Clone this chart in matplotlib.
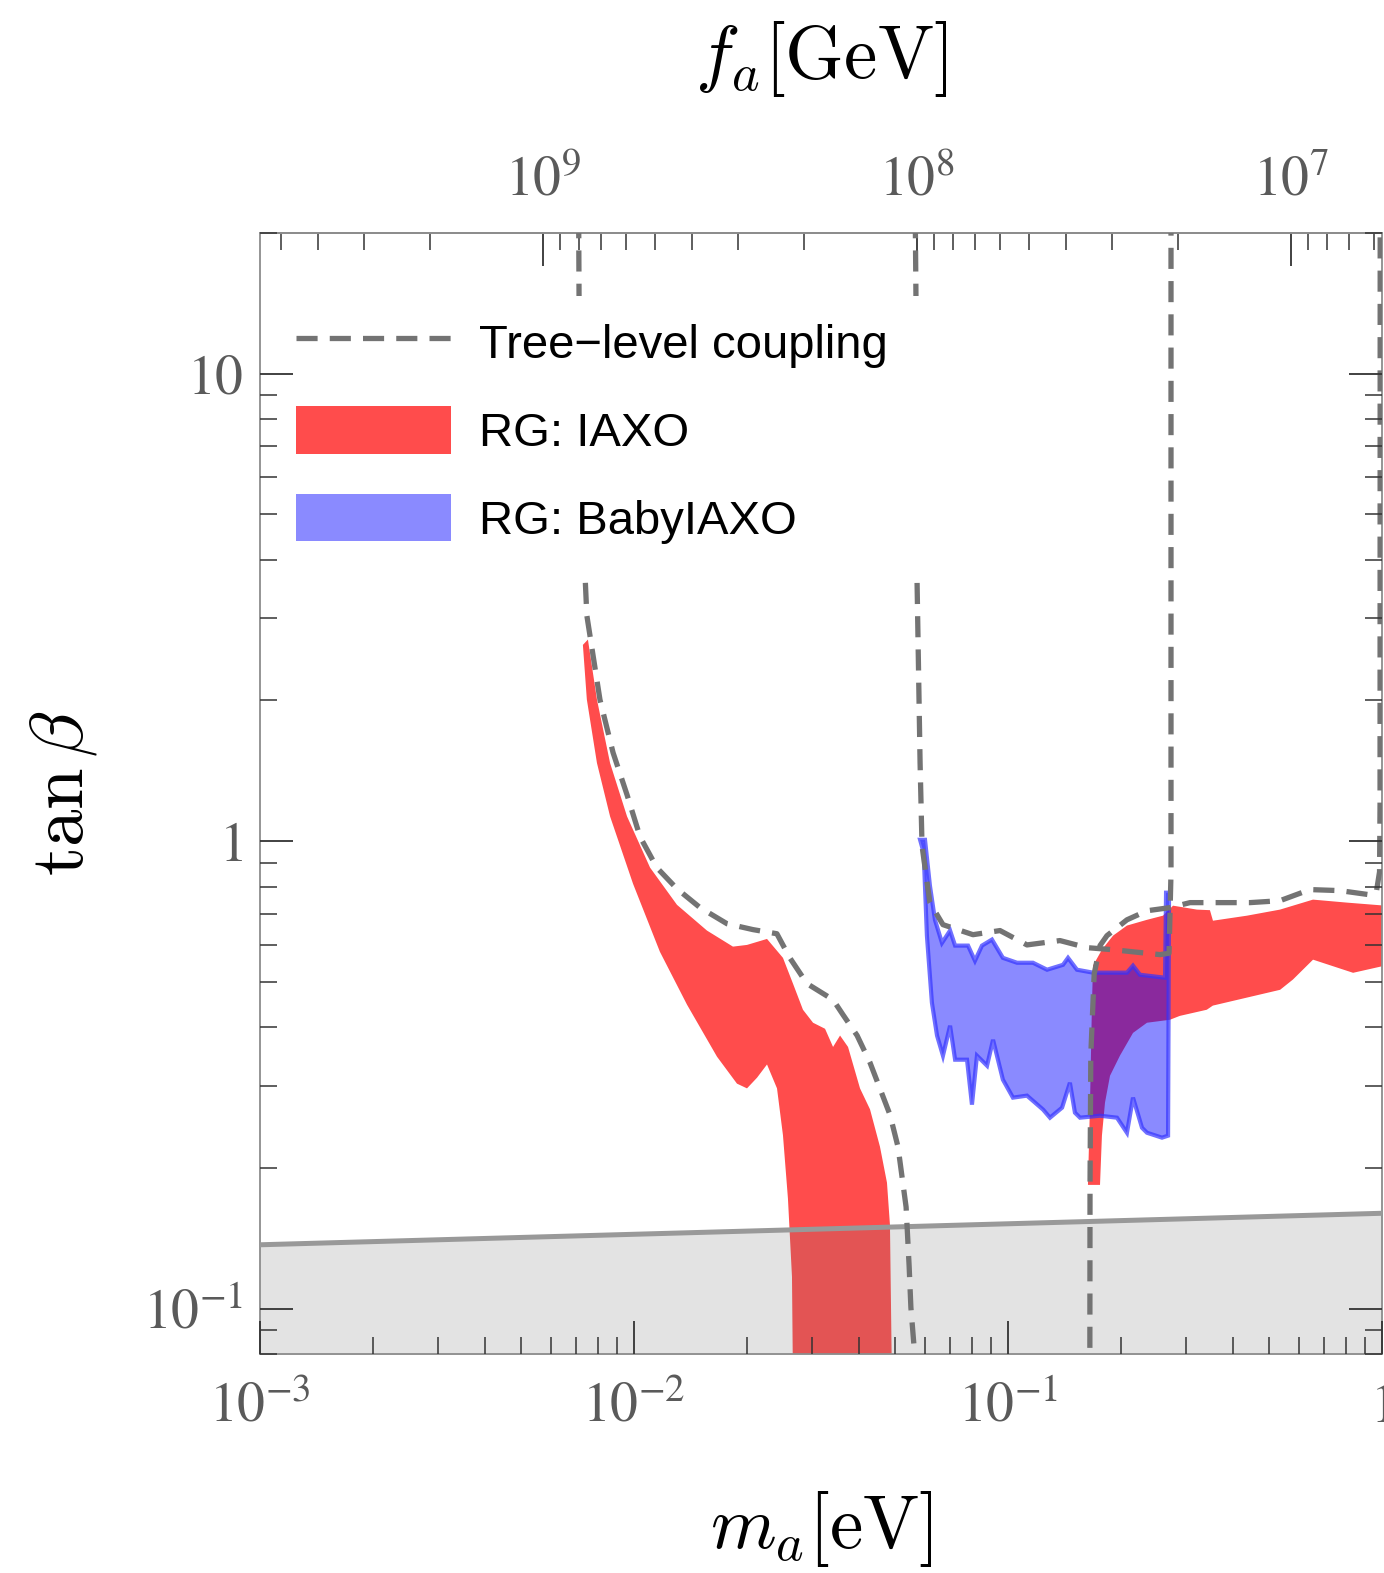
import math
import matplotlib
matplotlib.use('Agg')
import matplotlib.pyplot as plt
from matplotlib.lines import Line2D
from matplotlib.patches import Patch, Rectangle
from matplotlib.ticker import LogLocator, FuncFormatter, NullFormatter

plt.rcParams['font.family'] = ['Liberation Sans', 'DejaVu Sans']
plt.rcParams['mathtext.fontset'] = 'stix'

# m_a [eV] <-> f_a [GeV]
FA_CONST = 5.7e6

# RG: IAXO, low-mass branch (outline: upper edge, then lower edge back up)
iaxo1_m = [7.53e-3, 7.96e-3, 8.63e-3, 9.58e-3, 1.104e-2, 1.303e-2, 1.567e-2, 1.839e-2,
           2.005e-2, 2.268e-2, 2.502e-2, 2.661e-2, 2.830e-2, 3.011e-2, 3.242e-2, 3.406e-2,
           3.556e-2, 3.735e-2, 4.021e-2, 4.276e-2, 4.547e-2, 4.747e-2, 4.835e-2, 4.895e-2,
           2.661e-2, 2.645e-2, 2.580e-2, 2.502e-2, 2.412e-2, 2.268e-2, 2.133e-2, 2.005e-2,
           1.885e-2, 1.667e-2, 1.386e-2, 1.173e-2, 9.94e-3, 8.63e-3, 7.96e-3, 7.48e-3, 7.30e-3]
iaxo1_tb = [2.70, 2.01, 1.47, 1.13, 0.878, 0.731, 0.644, 0.595,
            0.600, 0.618, 0.563, 0.496, 0.436, 0.409, 0.397, 0.363,
            0.384, 0.363, 0.296, 0.267, 0.222, 0.186, 0.151, 0.07,
            0.07, 0.117, 0.172, 0.235, 0.296, 0.333, 0.312, 0.296,
            0.303, 0.346, 0.447, 0.580, 0.811, 1.13, 1.47, 2.01, 2.63]

# RG: IAXO, high-mass branch
iaxo2_m = [0.1688, 0.1783, 0.1909, 0.2080, 0.2353, 0.2597, 0.2762, 0.3200, 0.3467, 0.3532,
           0.4355, 0.5336, 0.6539, 0.806, 1.02,
           1.02, 0.837, 0.654, 0.578, 0.534, 0.353, 0.340, 0.288, 0.271, 0.2353, 0.2159,
           0.1993, 0.1874, 0.1817, 0.1783, 0.1762, 0.1636, 0.1657, 0.1677]
iaxo2_tb = [0.542, 0.586, 0.628, 0.660, 0.679, 0.693, 0.728, 0.714, 0.712, 0.676,
            0.693, 0.714, 0.750, 0.739, 0.728,
            0.542, 0.523, 0.558, 0.506, 0.481, 0.445, 0.436, 0.423, 0.415, 0.409, 0.389,
            0.348, 0.315, 0.276, 0.2345, 0.184, 0.184, 0.276, 0.451]

# RG: BabyIAXO
baby_m = [5.82e-2, 5.999e-2, 6.184e-2, 6.378e-2, 6.66e-2, 7.00e-2, 7.22e-2, 7.82e-2, 8.16e-2,
          8.52e-2, 9.06e-2, 9.69e-2, 0.1057, 0.1166, 0.1272, 0.1403, 0.1447, 0.1529, 0.1688,
          0.2080, 0.2159, 0.2254, 0.2630, 0.2646, 0.2695, 0.2679,
          0.2581, 0.2353, 0.2282, 0.2159, 0.2080, 0.1956, 0.1762, 0.1558, 0.1510, 0.1464,
          0.1395, 0.1295, 0.1241, 0.1124, 0.1031, 9.69e-2, 9.12e-2, 8.79e-2, 8.26e-2, 8.01e-2,
          7.77e-2, 7.22e-2, 7.00e-2, 6.70e-2, 6.46e-2, 6.26e-2, 6.07e-2, 5.95e-2]
baby_tb = [1.007, 1.007, 0.803, 0.679, 0.606, 0.644, 0.598, 0.598, 0.555,
           0.598, 0.616, 0.563, 0.5496, 0.5496, 0.531, 0.544, 0.563, 0.531, 0.5234,
           0.5234, 0.5417, 0.518, 0.5105, 0.776, 0.776, 0.2345,
           0.2322, 0.2379, 0.2438, 0.2828, 0.2379, 0.2562, 0.2587, 0.2562, 0.2626, 0.3043,
           0.2692, 0.2562, 0.2666, 0.2856, 0.2828, 0.3090, 0.376, 0.331, 0.3477, 0.2732,
           0.3409, 0.3409, 0.403, 0.3477, 0.384, 0.4513, 0.628, 0.945]

# tree-level coupling curves
tree1_m = [7.10e-3, 7.13e-3, 7.25e-3, 7.40e-3, 7.48e-3, 8.11e-3, 8.79e-3, 9.58e-3, 1.038e-2,
           1.151e-2, 1.303e-2, 1.502e-2, 1.773e-2, 2.08e-2, 2.41e-2, 2.61e-2, 2.90e-2,
           3.406e-2, 3.62e-2, 3.95e-2, 4.276e-2, 4.547e-2, 4.835e-2, 5.08e-2, 5.34e-2,
           5.44e-2, 5.50e-2, 5.64e-2, 5.70e-2]
tree1_tb = [30, 14.4, 6.0, 3.68, 3.04, 2.007, 1.547, 1.257, 1.022,
            0.878, 0.791, 0.721, 0.666, 0.647, 0.634, 0.563, 0.496,
            0.458, 0.4255, 0.384, 0.336, 0.2956, 0.260, 0.222, 0.165,
            0.1236, 0.1005, 0.0785, 0.07]

tree2_m = [5.63e-2, 5.675e-2, 5.71e-2, 5.82e-2, 5.89e-2, 6.18e-2, 6.70e-2, 8.06e-2, 9.52e-2,
           0.1124, 0.1377, 0.1626, 0.1909, 0.2549, 0.2695, 0.2728, 0.2728]
tree2_tb = [30, 14.4, 3.68, 1.472, 0.978, 0.739, 0.663, 0.631, 0.644,
            0.600, 0.613, 0.592, 0.586, 0.572, 0.576, 0.856, 30]

tree3_m = [0.1655, 0.1657, 0.1665, 0.1700, 0.1762, 0.1839, 0.2080, 0.2353, 0.2711, 0.3067,
           0.3622, 0.4437, 0.5336, 0.6419, 0.772, 0.929, 0.965, 0.985, 0.988, 0.989]
tree3_tb = [0.07, 0.184, 0.35, 0.52, 0.598, 0.628, 0.679, 0.710, 0.721, 0.739,
            0.739, 0.739, 0.746, 0.788, 0.784, 0.768, 0.775, 0.86, 1.2, 30]

# lower bound on tan beta (shaded below)
bound_m = [1e-3, 1.0]
bound_tb = [0.137, 0.160]

red = (1.0, 0.0, 0.0, 0.7)
blue = (0.0, 0.0, 1.0, 0.46)
dash_col = '#737373'

fig = plt.figure(figsize=(13.84, 15.73), dpi=100)
ax = fig.add_axes([260 / 1384, 1 - 1354 / 1573, 1122 / 1384, 1121 / 1573])
ax.set_xscale('log')
ax.set_yscale('log')
ax.set_xlim(1e-3, 1)
ax.set_ylim(0.08, 20)

ax.fill(iaxo1_m, iaxo1_tb, color=red, lw=0, zorder=2)
ax.fill(iaxo2_m, iaxo2_tb, color=red, lw=0, zorder=2)
ax.fill(baby_m, baby_tb, facecolor=blue, edgecolor=(0.2, 0.2, 1.0, 0.7), lw=3, zorder=2.2)

ax.fill_between(bound_m, bound_tb, 1e-3, color=(0.46, 0.46, 0.46), alpha=0.2, lw=0, zorder=2.4)
ax.plot(bound_m, bound_tb, color='#999999', lw=3.6, zorder=2.6)

for xm, yt in [(tree1_m, tree1_tb), (tree2_m, tree2_tb), (tree3_m, tree3_tb)]:
    ax.plot(xm, yt, color=dash_col, lw=3.8, dashes=(4, 2.3), zorder=3)


def pow_label(v, pos):
    if v <= 0:
        return ''
    e = int(round(math.log10(v)))
    if e == 0:
        return r'$1$'
    if e == 1:
        return r'$10$'
    return r'$10^{%d}$' % e


for axis in (ax.xaxis, ax.yaxis):
    axis.set_major_locator(LogLocator(base=10, numticks=10))
    axis.set_minor_locator(LogLocator(base=10, subs=range(2, 10), numticks=20))
    axis.set_major_formatter(FuncFormatter(pow_label))
    axis.set_minor_formatter(NullFormatter())

ax.tick_params(which='both', direction='in', color='#333333', labelcolor='#5a5a5a',
               labelsize=40, top=False, right=True)
ax.tick_params(which='major', length=24, width=1.3)
ax.tick_params(which='minor', length=12, width=1.1)
ax.tick_params(axis='x', pad=20)
ax.tick_params(axis='y', pad=12)
for sp in ax.spines.values():
    sp.set_color('#8c8c8c')
    sp.set_linewidth(1.3)

# f_a scale on top
secax = ax.secondary_xaxis('top', functions=(lambda m: FA_CONST / m, lambda f: FA_CONST / f))
secax.xaxis.set_major_locator(LogLocator(base=10, numticks=10))
secax.xaxis.set_minor_locator(LogLocator(base=10, subs=range(2, 10), numticks=20))
secax.xaxis.set_major_formatter(FuncFormatter(pow_label))
secax.xaxis.set_minor_formatter(NullFormatter())
secax.tick_params(which='both', direction='in', color='#333333', labelcolor='#5a5a5a',
                  labelsize=40, pad=18)
secax.tick_params(which='major', length=24, width=1.3)
secax.tick_params(which='minor', length=12, width=1.1)
secax.spines['top'].set_color('#8c8c8c')
secax.spines['top'].set_linewidth(1.3)

ax.set_xlabel(r'$m_a[\mathrm{eV}]$', fontsize=54, math_fontfamily='cm', labelpad=40)
ax.set_ylabel(r'$\tan\beta$', fontsize=54, math_fontfamily='cm', labelpad=32)
secax.set_xlabel(r'$f_a[\mathrm{GeV}]$', fontsize=54, math_fontfamily='cm', labelpad=56)

# opaque backing for the legend block
ax.add_patch(Rectangle((0.025, 0.6985), 0.568, 0.2453, transform=ax.transAxes,
                       facecolor='white', edgecolor='none', zorder=4))

handles = [Line2D([], [], color=dash_col, lw=3.8, dashes=(4, 2.3)),
           Patch(facecolor=red, edgecolor='none'),
           Patch(facecolor=blue, edgecolor='none')]
labels = ['Tree\u2212level coupling', 'RG: IAXO', 'RG: BabyIAXO']
leg = ax.legend(handles, labels, loc='upper left', bbox_to_anchor=(0.0069, 0.949),
                fontsize=34, handlelength=3.28, handleheight=1.16, handletextpad=0.59,
                labelspacing=0.81, borderpad=0.6, borderaxespad=0, frameon=False)
leg.set_zorder(5)
ax.xaxis.set_zorder(6)
ax.yaxis.set_zorder(6)

fig.savefig('out.png', dpi=100)
